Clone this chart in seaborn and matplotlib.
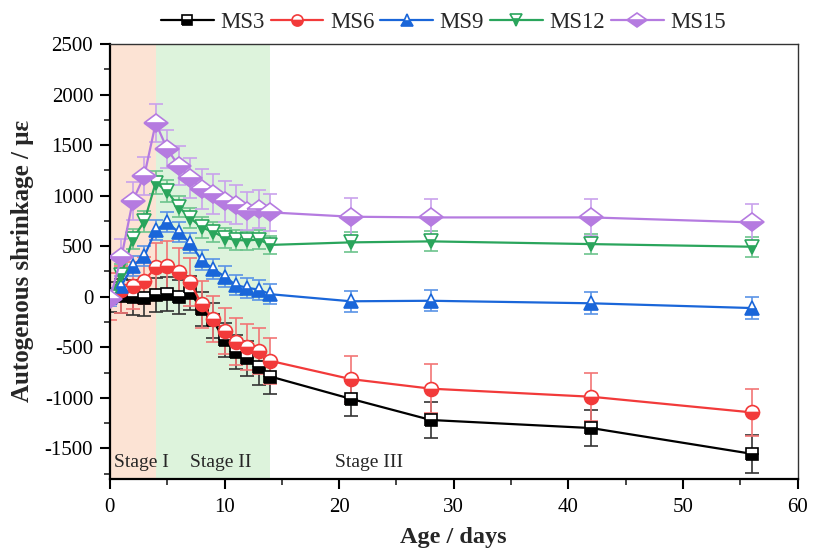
import matplotlib
matplotlib.use("Agg")
import matplotlib.pyplot as plt
import seaborn as sns
import pandas as pd
from matplotlib.ticker import MultipleLocator
from matplotlib.markers import MarkerStyle
from matplotlib.transforms import Affine2D

days = [0, 1, 2, 3, 4, 5, 6, 7, 8, 9, 10, 11, 12, 13, 14, 21, 28, 42, 56]

ms3 = [0, 10, -7, -15, 20, 26, 0, 40, -120, -235, -430, -550, -610, -700, -790, -1010, -1220, -1300, -1555]
ms6 = [0, 70, 110, 160, 290, 305, 240, 145, -75, -220, -340, -445, -495, -535, -635, -815, -910, -990, -1145]
ms9 = [0, 110, 305, 400, 660, 736, 637, 533, 360, 278, 200, 115, 88, 70, 25, -45, -40, -65, -112]
ms12 = [0, 220, 572, 745, 1130, 1043, 890, 780, 686, 642, 584, 561, 557, 566, 513, 538, 548, 521, 495]
ms15 = [-20, 389, 950, 1198, 1720, 1462, 1297, 1175, 1066, 1017, 944, 911, 851, 868, 835, 792, 785, 785, 736]

err3 = [150, 170, 170, 175, 170, 170, 170, 170, 170, 170, 170, 170, 170, 170, 170, 175, 175, 175, 185]
err6 = [230, 230, 230, 230, 240, 245, 240, 235, 230, 230, 230, 230, 230, 230, 230, 230, 240, 240, 230]
err9 = [90, 100, 100, 100, 100, 100, 100, 100, 100, 100, 100, 100, 100, 100, 100, 105, 105, 110, 110]
err12 = [80, 100, 100, 105, 115, 110, 105, 100, 100, 100, 100, 95, 95, 95, 90, 100, 100, 100, 100]
err15 = [60, 185, 190, 190, 190, 190, 195, 195, 200, 200, 200, 195, 190, 190, 185, 190, 185, 185, 180]

names = ["MS3", "MS6", "MS9", "MS12", "MS15"]
values = [ms3, ms6, ms9, ms12, ms15]
errors = [err3, err6, err9, err12, err15]
colors = ["#000000", "#F23A3A", "#1A66D9", "#2AA55C", "#B57BE0"]
ecolors = ["#333333", "#F27575", "#5A93E6", "#6CC38C", "#C9A2EC"]

mk = [
    MarkerStyle("s", fillstyle="bottom"),
    MarkerStyle("o", fillstyle="bottom"),
    MarkerStyle("^", fillstyle="bottom"),
    MarkerStyle("v", fillstyle="bottom"),
    MarkerStyle("D", fillstyle="bottom", transform=Affine2D().scale(1.3, 0.95)),
]
msizes = [9, 10, 10, 10, 9.5]

sns.set_theme(style="ticks")
plt.rcParams["font.family"] = ["Liberation Serif", "DejaVu Serif"]
plt.rcParams["axes.unicode_minus"] = False

fig = plt.figure(figsize=(8.14, 5.52), dpi=100)
ax = fig.add_axes([0.135, 0.133, 0.845, 0.787])

ax.axvspan(0, 4, color="#FCE3D4", zorder=0, lw=0)
ax.axvspan(4, 14, color="#DDF3DC", zorder=0, lw=0)

for name, v, e, c, ec, m, ms in zip(names, values, errors, colors, ecolors, mk, msizes):
    df = pd.DataFrame({"day": days, "val": v})
    ax.errorbar(days, v, yerr=e, fmt="none", ecolor=ec, elinewidth=1.2,
                capsize=5, capthick=1.2, zorder=2)
    sns.lineplot(data=df, x="day", y="val", ax=ax, color=c, lw=1.6,
                 marker=m, markersize=ms,
                 markerfacecolor=c, markerfacecoloralt="white",
                 markeredgecolor=c, markeredgewidth=1.2,
                 label=name, zorder=3)

ax.set_xlim(0, 60)
ax.set_ylim(-1800, 2500)
ax.xaxis.set_major_locator(MultipleLocator(10))
ax.xaxis.set_minor_locator(MultipleLocator(5))
ax.yaxis.set_major_locator(MultipleLocator(500))
ax.yaxis.set_minor_locator(MultipleLocator(250))
ax.tick_params(axis="both", which="major", direction="out", length=7, width=1.5,
               labelsize=15, color="black", labelcolor="black", pad=5)
ax.tick_params(axis="x", which="major", pad=7)
ax.tick_params(axis="both", which="minor", direction="out", length=4, width=1.2)
for sp in ["left", "bottom"]:
    ax.spines[sp].set_linewidth(1.6)
    ax.spines[sp].set_color("black")
for sp in ["top", "right"]:
    ax.spines[sp].set_linewidth(1.0)
    ax.spines[sp].set_color("#333333")

ax.set_xlabel("Age / days", fontsize=17.5, fontweight="bold", labelpad=7)
ax.set_ylabel("Autogenous shrinkage / με", fontsize=18, fontweight="bold", labelpad=8)

ax.text(0.4, -1640, "Stage I", fontsize=14, va="center", ha="left")
ax.text(7.0, -1640, "Stage II", fontsize=14, va="center", ha="left")
ax.text(19.6, -1640, "Stage III", fontsize=14, va="center", ha="left")

ax.legend(loc="center", bbox_to_anchor=(0.485, 1.05), ncol=5, frameon=False,
          fontsize=16.5, handlelength=2.3, columnspacing=0.25, handletextpad=0.3,
          borderaxespad=0, markerscale=0.8)

fig.savefig("out.png", dpi=100)
